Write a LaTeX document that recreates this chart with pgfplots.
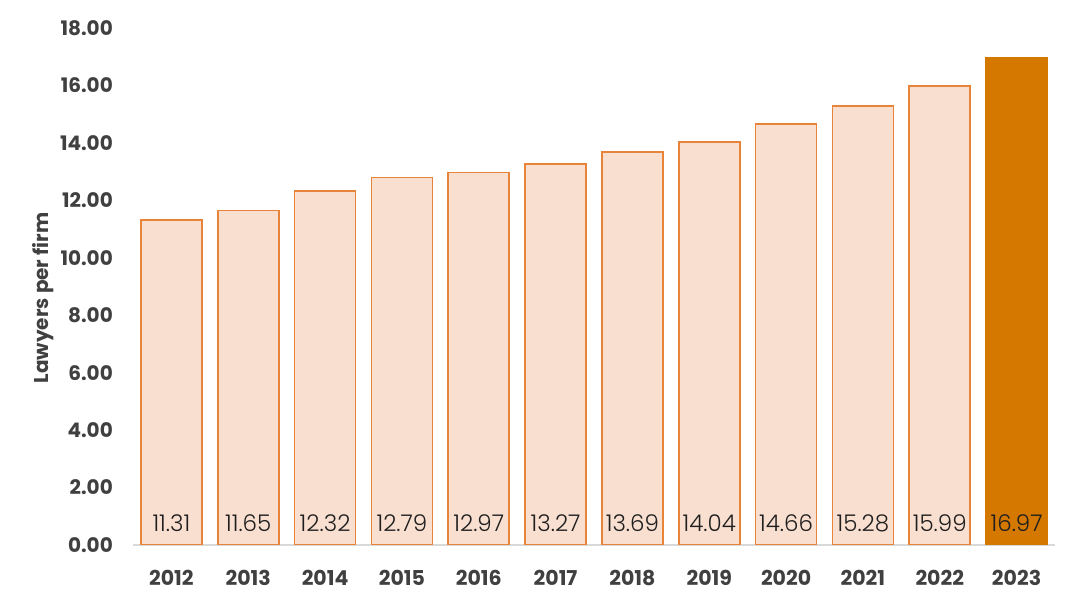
\documentclass[border=0pt]{standalone}
\usepackage{pgfplots}
\pgfplotsset{compat=1.18}
\usepackage{fontspec}
\setmainfont{Poppins}
\newfontfamily\lightfont{Poppins Light}
\definecolor{lightbar}{HTML}{F9DFD0}
\definecolor{baredge}{HTML}{E8843A}
\definecolor{darkbar}{HTML}{D47800}
\definecolor{textgray}{HTML}{404040}
\definecolor{axisgray}{HTML}{D9D9D9}
\begin{document}
\begin{tikzpicture}
\begin{axis}[
  at={(0,0)}, anchor=south west,
  scale only axis, width=922pt, height=517pt,
  xmin=-0.5, xmax=11.5, ymin=0, ymax=18,
  axis lines*=left,
  y axis line style={draw=none},
  x axis line style={draw=axisgray, line width=1.5pt},
  major tick length=0pt, tick style={draw=none},
  ytick={0,2,...,18},
  yticklabel={\pgfmathprintnumber[fixed,fixed zerofill,precision=2]{\tick}},
  /pgf/number format/assume math mode=true,
  yticklabel style={font=\bfseries\fontsize{20}{24}\selectfont, text=textgray, anchor=east, inner sep=0pt, xshift=-20pt},
  xtick={0,...,11},
  xticklabels={2012,2013,2014,2015,2016,2017,2018,2019,2020,2021,2022,2023},
  xticklabel style={font=\bfseries\fontsize{20.5}{24}\selectfont, text=textgray, anchor=center, inner sep=0pt, yshift=-33pt},
  ylabel={Lawyers per firm},
  ylabel style={font=\bfseries\fontsize{20}{24}\selectfont, text=textgray, at={(axis description cs:-0.0976,0.478)}, anchor=center},
  ybar, bar width=61pt,
  visualization depends on={rawy \as \rawy},
  nodes near coords={\pgfmathprintnumber[fixed,fixed zerofill,precision=2]{\pgfplotspointmeta}},
  every node near coord/.append style={font=\lightfont\fontsize{23}{27}\selectfont, text=black!88, anchor=center, inner sep=0pt, yshift={-(\rawy-0.77)*28.722pt}},
]
\addplot[bar shift=0pt, fill=lightbar, draw=baredge, line width=1.7pt] coordinates {
 (0,11.31) (1,11.65) (2,12.32) (3,12.79) (4,12.97) (5,13.27) (6,13.69) (7,14.04) (8,14.66) (9,15.28) (10,15.99)};
\addplot[bar shift=0pt, fill=darkbar, draw=darkbar, line width=1.7pt] coordinates {(11,16.97)};
\end{axis}
\pgfresetboundingbox
\path (-133pt,-63pt) rectangle (947pt,545pt);
\end{tikzpicture}
\end{document}
